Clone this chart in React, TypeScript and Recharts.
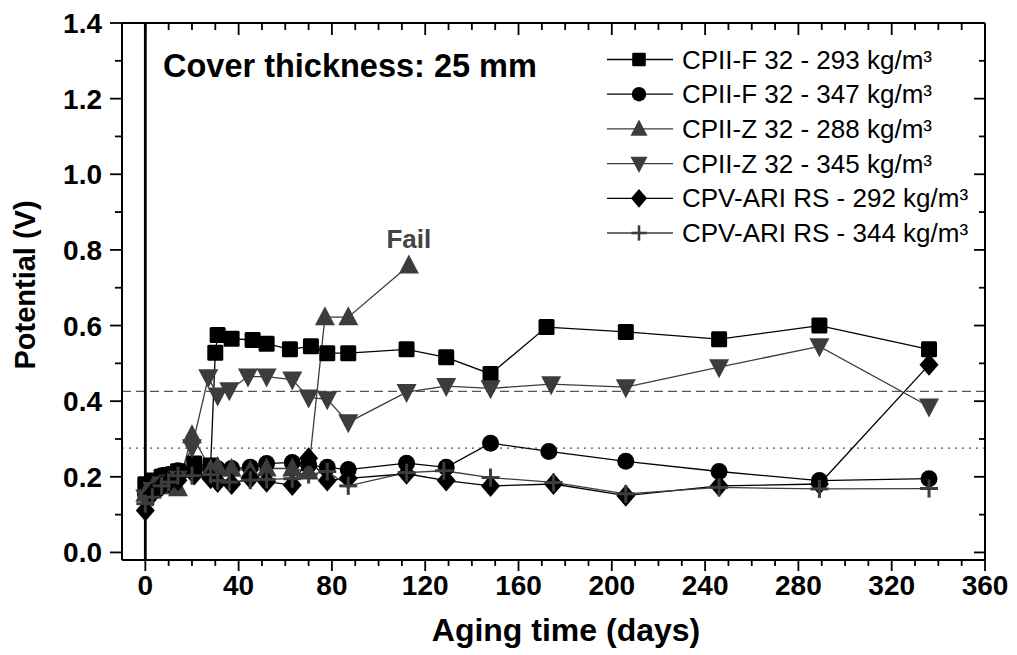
import React from 'react';
import {
  LineChart,
  Line,
  XAxis,
  YAxis,
  ReferenceLine,
  ReferenceDot,
  Customized,
} from 'recharts';

// ---------------- data ----------------
const daysF293 = [0, 3, 7, 10, 14, 21, 28, 30, 31, 37, 46, 52, 62, 71, 78, 87, 112, 129, 148, 172, 206, 246, 289, 336];
const potF293 = [0.18, 0.19, 0.2, 0.205, 0.215, 0.235, 0.23, 0.528, 0.575, 0.565, 0.562, 0.552, 0.537, 0.545, 0.527, 0.527, 0.537, 0.516, 0.472, 0.596, 0.583, 0.564, 0.6, 0.537];

const daysF347 = [0, 3, 7, 10, 14, 21, 28, 31, 37, 45, 52, 63, 70, 78, 87, 112, 129, 148, 173, 206, 246, 289, 336];
const potF347 = [0.155, 0.185, 0.203, 0.206, 0.216, 0.221, 0.224, 0.221, 0.222, 0.225, 0.235, 0.238, 0.231, 0.225, 0.219, 0.236, 0.225, 0.289, 0.267, 0.241, 0.214, 0.19, 0.195];

const daysZ288 = [0, 3, 7, 10, 14, 20, 28, 31, 37, 45, 52, 63, 70, 77, 87, 113];
const potZ288 = [0.155, 0.17, 0.175, 0.18, 0.17, 0.31, 0.22, 0.226, 0.221, 0.216, 0.222, 0.222, 0.214, 0.622, 0.622, 0.759];

const daysZ345 = [0, 3, 7, 10, 14, 20, 27, 31, 36, 44, 52, 63, 70, 78, 87, 112, 129, 148, 174, 206, 246, 289, 336];
const potZ345 = [0.145, 0.165, 0.18, 0.185, 0.195, 0.278, 0.463, 0.415, 0.429, 0.465, 0.465, 0.457, 0.41, 0.405, 0.344, 0.424, 0.44, 0.434, 0.445, 0.437, 0.49, 0.545, 0.386];

const daysARI292 = [0, 3, 7, 10, 14, 21, 28, 31, 37, 45, 52, 63, 70, 78, 87, 112, 129, 148, 175, 206, 246, 289, 336];
const potARI292 = [0.111, 0.155, 0.176, 0.186, 0.191, 0.206, 0.196, 0.186, 0.181, 0.196, 0.187, 0.178, 0.249, 0.19, 0.196, 0.208, 0.19, 0.176, 0.181, 0.15, 0.176, 0.181, 0.496];

const daysARI344 = [0, 3, 7, 10, 14, 20, 28, 31, 36, 45, 52, 63, 70, 78, 87, 112, 128, 148, 175, 206, 246, 289, 336];
const potARI344 = [0.129, 0.146, 0.176, 0.186, 0.203, 0.203, 0.206, 0.19, 0.186, 0.191, 0.193, 0.195, 0.206, 0.214, 0.176, 0.211, 0.216, 0.198, 0.185, 0.155, 0.172, 0.168, 0.169];

const seriesNames = [
  'CPII-F 32 - 293 kg/m³',
  'CPII-F 32 - 347 kg/m³',
  'CPII-Z 32 - 288 kg/m³',
  'CPII-Z 32 - 345 kg/m³',
  'CPV-ARI RS - 292 kg/m³',
  'CPV-ARI RS - 344 kg/m³',
];

const xMajorTicks = [0, 40, 80, 120, 160, 200, 240, 280, 320, 360];
const xMinorTicks = [10, 20, 30, 50, 60, 70, 90, 100, 110, 130, 140, 150, 170, 180, 190, 210, 220, 230, 250, 260, 270, 290, 300, 310, 330, 340, 350];
const yMajorTicks = [0, 0.2, 0.4, 0.6, 0.8, 1.0, 1.2, 1.4];
const yMinorTicks = [0.1, 0.3, 0.5, 0.7, 0.9, 1.1, 1.3];

const thresholdHigh = 0.426;
const thresholdLow = 0.276;
const failDay = 113;
const failPotential = 0.759;

// ---------------- styling ----------------
const FONT = 'Arial, "Liberation Sans", Helvetica, sans-serif';
const BLACK = '#000000';
const GRAY = '#3c3c3c';

const toData = (days: number[], vals: number[]) => days.map((d, i) => ({ d, v: vals[i] }));

type Shape = 'square' | 'circle' | 'up' | 'down' | 'diamond' | 'plus';

const series: { name: string; data: { d: number; v: number }[]; shape: Shape; color: string }[] = [
  { name: seriesNames[0], data: toData(daysF293, potF293), shape: 'square', color: BLACK },
  { name: seriesNames[1], data: toData(daysF347, potF347), shape: 'circle', color: BLACK },
  { name: seriesNames[2], data: toData(daysZ288, potZ288), shape: 'up', color: GRAY },
  { name: seriesNames[3], data: toData(daysZ345, potZ345), shape: 'down', color: GRAY },
  { name: seriesNames[4], data: toData(daysARI292, potARI292), shape: 'diamond', color: BLACK },
  { name: seriesNames[5], data: toData(daysARI344, potARI344), shape: 'plus', color: GRAY },
];

function Marker({ shape, cx, cy, color, s = 1 }: { shape: Shape; cx: number; cy: number; color: string; s?: number }) {
  switch (shape) {
    case 'square':
      return <rect x={cx - 8 * s} y={cy - 8 * s} width={16 * s} height={16 * s} rx={1.5 * s} fill={color} />;
    case 'circle':
      return <circle cx={cx} cy={cy} r={8.5 * s} fill={color} />;
    case 'up':
      return <polygon points={`${cx},${cy - 11 * s} ${cx + 10 * s},${cy + 8 * s} ${cx - 10 * s},${cy + 8 * s}`} fill={color} />;
    case 'down':
      return <polygon points={`${cx},${cy + 11 * s} ${cx + 10 * s},${cy - 8 * s} ${cx - 10 * s},${cy - 8 * s}`} fill={color} />;
    case 'diamond':
      return <polygon points={`${cx},${cy - 11 * s} ${cx + 9.5 * s},${cy} ${cx},${cy + 11 * s} ${cx - 9.5 * s},${cy}`} fill={color} />;
    case 'plus':
      return (
        <g stroke={color} strokeWidth={3 * s}>
          <line x1={cx - 9 * s} x2={cx + 9 * s} y1={cy} y2={cy} />
          <line x1={cx} x2={cx} y1={cy - 9 * s} y2={cy + 9 * s} />
        </g>
      );
  }
  return null;
}

const makeDot = (shape: Shape, color: string) => (props: any) => {
  const { cx, cy, index } = props;
  if (cx == null || cy == null) return <g key={`e-${index}`} />;
  return (
    <g key={`m-${shape}-${index}`}>
      <Marker shape={shape} cx={cx} cy={cy} color={color} />
    </g>
  );
};

const isMajorX = (v: number) => xMajorTicks.includes(v);
const isMajorY = (v: number) => yMajorTicks.some((t) => Math.abs(t - v) < 1e-6);

const TICK_FONT = 28;

const BottomTick = (p: any) => {
  const v = p.payload.value;
  const major = isMajorX(v);
  return (
    <g>
      <line x1={p.x} x2={p.x} y1={p.y} y2={p.y + (major ? 11 : 6)} stroke={BLACK} strokeWidth={1.8} />
      {major && (
        <text x={p.x} y={p.y + 35} textAnchor="middle" fontFamily={FONT} fontWeight="bold" fontSize={TICK_FONT} fill={BLACK}>
          {v}
        </text>
      )}
    </g>
  );
};

const TopTick = (p: any) => {
  const v = p.payload.value;
  const major = isMajorX(v);
  return <line x1={p.x} x2={p.x} y1={p.y} y2={p.y + (major ? 12 : 7)} stroke={BLACK} strokeWidth={1.8} />;
};

const LeftTick = (p: any) => {
  const v = p.payload.value;
  const major = isMajorY(v);
  return (
    <g>
      <line x1={p.x - (major ? 12 : 7)} x2={p.x} y1={p.y} y2={p.y} stroke={BLACK} strokeWidth={1.8} />
      {major && (
        <text x={p.x - 20} y={p.y + 10} textAnchor="end" fontFamily={FONT} fontWeight="bold" fontSize={TICK_FONT} fill={BLACK}>
          {v.toFixed(1)}
        </text>
      )}
    </g>
  );
};

const RightTick = (p: any) => {
  const v = p.payload.value;
  const major = isMajorY(v);
  return <line x1={p.x - (major ? 11 : 6)} x2={p.x} y1={p.y} y2={p.y} stroke={BLACK} strokeWidth={1.8} />;
};

// legend layout (svg coordinates)
const LEG_X = 599;
const LEG_Y = 51.5;
const LEG_STEP = 34.7;

const LegendSvg = () => (
  <g>
    {series.map((s, i) => {
      const y = LEG_Y + i * LEG_STEP;
      return (
        <g key={s.name}>
          <line x1={LEG_X} x2={LEG_X + 66} y1={y} y2={y} stroke={s.color} strokeWidth={1.3} />
          <Marker shape={s.shape} cx={LEG_X + 32} cy={y} color={s.color} s={0.85} />
          <text x={LEG_X + 75} y={y + 9} fontFamily={FONT} fontSize={26} fill={BLACK}>
            {s.name}
          </text>
        </g>
      );
    })}
  </g>
);

const allXTicks = [...xMajorTicks, ...xMinorTicks].sort((a, b) => a - b);
const allYTicks = [...yMajorTicks, ...yMinorTicks].sort((a, b) => a - b);

export default function App() {
  return (
    <div style={{ width: 1009, height: 647 }}>
      <LineChart width={1009} height={647} margin={{ top: 0, right: 0, bottom: 0, left: 0 }}>
        <XAxis
          xAxisId="bottom"
          type="number"
          dataKey="d"
          domain={[-10, 360]}
          allowDataOverflow
          ticks={allXTicks}
          interval={0}
          height={95}
          tickSize={0}
          tickMargin={0}
          tick={<BottomTick />}
          axisLine={{ stroke: BLACK, strokeWidth: 2 }}
          tickLine={false}
          label={{
            content: () => (
              <text x={558} y={633} textAnchor="middle" fontFamily={FONT} fontWeight="bold" fontSize={32} fill={BLACK}>
                Aging time (days)
              </text>
            ),
          }}
        />
        <XAxis
          xAxisId="top"
          orientation="top"
          type="number"
          dataKey="d"
          domain={[-10, 360]}
          allowDataOverflow
          ticks={allXTicks}
          interval={0}
          height={15}
          tickSize={0}
          tickMargin={0}
          tick={<TopTick />}
          axisLine={{ stroke: BLACK, strokeWidth: 2 }}
          tickLine={false}
        />
        <YAxis
          yAxisId="left"
          type="number"
          domain={[-0.02, 1.4]}
          allowDataOverflow
          ticks={allYTicks}
          interval={0}
          width={114}
          tickSize={0}
          tickMargin={0}
          tick={<LeftTick />}
          axisLine={{ stroke: BLACK, strokeWidth: 2 }}
          tickLine={false}
          label={{
            content: () => (
              <text
                x={27}
                y={277}
                transform="rotate(-90 27 277)"
                textAnchor="middle"
                fontFamily={FONT}
                fontWeight="bold"
                fontSize={29}
                fill={BLACK}
              >
                Potential (V)
              </text>
            ),
          }}
        />
        <YAxis
          yAxisId="right"
          orientation="right"
          type="number"
          domain={[-0.02, 1.4]}
          allowDataOverflow
          ticks={allYTicks}
          interval={0}
          width={32}
          tickSize={0}
          tickMargin={0}
          tick={<RightTick />}
          axisLine={{ stroke: BLACK, strokeWidth: 2 }}
          tickLine={false}
        />

        <ReferenceLine xAxisId="bottom" yAxisId="left" y={thresholdHigh} stroke="#555" strokeWidth={1.3} strokeDasharray="9 5" />
        <ReferenceLine xAxisId="bottom" yAxisId="left" y={thresholdLow} stroke="#555" strokeWidth={1.3} strokeDasharray="2 5" />
        <ReferenceLine xAxisId="bottom" yAxisId="left" x={0} stroke={BLACK} strokeWidth={2.8} />

        {series.map((s) => (
          <Line
            key={s.name}
            xAxisId="bottom"
            yAxisId="left"
            data={s.data}
            dataKey="v"
            name={s.name}
            type="linear"
            stroke={s.color}
            strokeWidth={1.3}
            dot={makeDot(s.shape, s.color)}
            activeDot={false}
            isAnimationActive={false}
          />
        ))}

        <ReferenceDot
          xAxisId="bottom"
          yAxisId="left"
          x={failDay}
          y={failPotential}
          r={0}
          fill="none"
          stroke="none"
          label={{
            content: (props: any) => {
              const vb = props.viewBox || {};
              const cx = (vb.x ?? 0) + (vb.width ?? 0) / 2;
              const cy = (vb.y ?? 0) + (vb.height ?? 0) / 2;
              return (
                <text x={cx} y={cy - 17} textAnchor="middle" fontFamily={FONT} fontWeight="bold" fontSize={26} fill="#444">
                  Fail
                </text>
              );
            },
          }}
        />

        <Customized
          component={() => (
            <text x={155} y={69} fontFamily={FONT} fontWeight="bold" fontSize={32.5} fill={BLACK}>
              Cover thickness: 25 mm
            </text>
          )}
        />
        <Customized component={() => <LegendSvg />} />
      </LineChart>
    </div>
  );
}
